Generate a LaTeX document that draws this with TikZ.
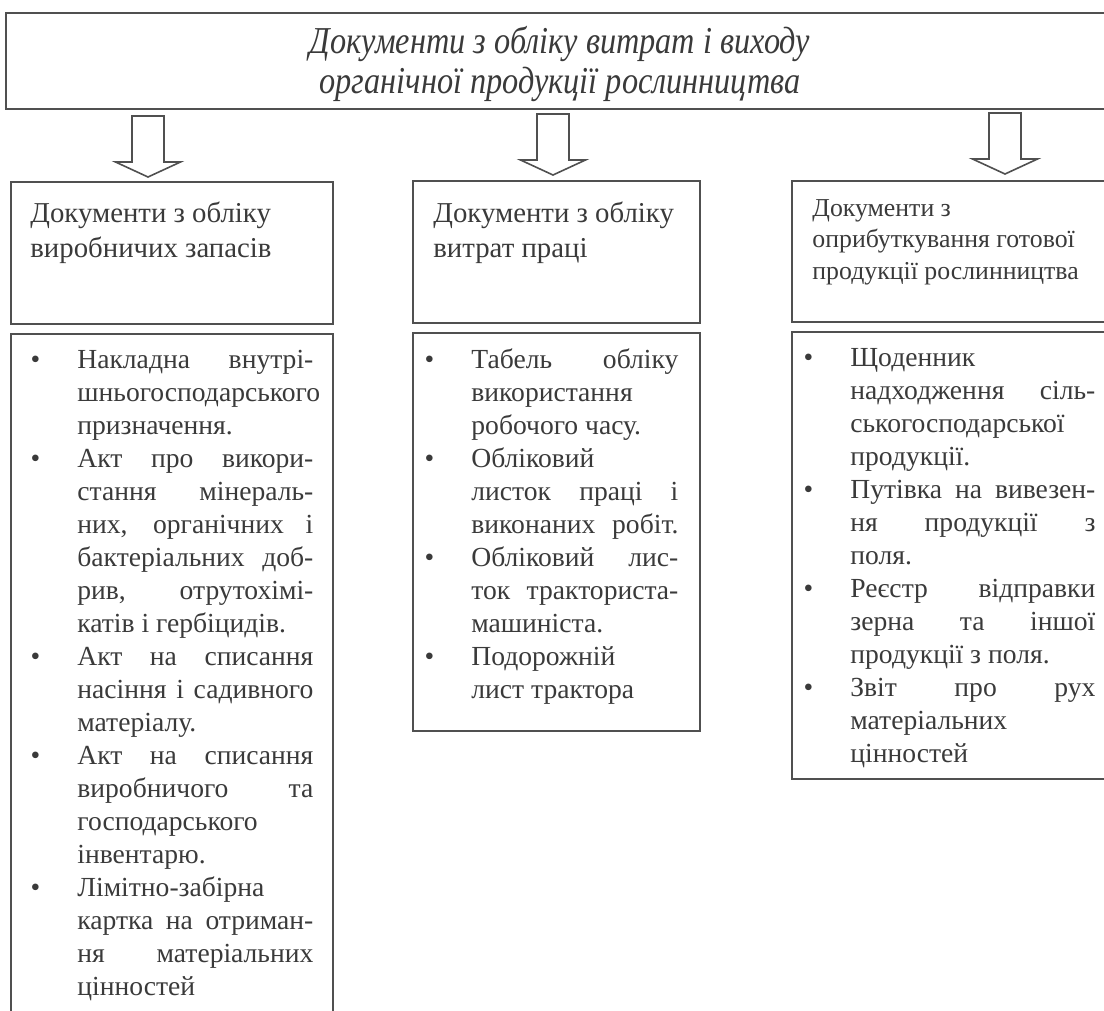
\documentclass[tikz,border=0pt]{standalone}
\usepackage{fontspec}
\setmainfont{Liberation Serif}
\newfontfamily\capfont[FakeStretch=0.85]{Liberation Serif}
\usetikzlibrary{calc}
\definecolor{ink}{HTML}{3A3A3A}
\definecolor{frame}{HTML}{505050}
\newlength\colw
\newcommand{\jline}[1]{\makebox[\colw][s]{#1}}
\newcommand{\bul}{\llap{\textbullet\hspace{18.5pt}}}
\tikzset{
  colw/.code={\setlength\colw{#1}},
  box/.style={draw=frame, line width=0.8pt, inner sep=0pt, anchor=north west},
  hollow/.style={draw=frame, line width=0.8pt, line join=miter, fill=white},
  captxt/.style={text=ink, inner sep=0pt, align=center, font=\capfont\itshape\fontsize{19}{20}\selectfont},
  headtxt/.style={text=ink, inner sep=0pt, anchor=base west, align=left, font=\fontsize{14.4}{17.5}\selectfont},
  headsm/.style={headtxt, font=\fontsize{12.9}{15.6}\selectfont},
  lines/.style={text=ink, inner sep=0pt, anchor=base west, align=left, font=\fontsize{13.8}{16.5}\selectfont},
}
\begin{document}
\begin{tikzpicture}[x=0.5pt,y=-0.5pt]
  \useasboundingbox (0,0) rectangle (1104,1011);
  \clip (0,0) rectangle (1104,1011);
  % main box
  \node[box, minimum width=557.5pt, minimum height=48pt] (top) at (5,12) {};
  \node[captxt] (toptxt) at (560,64) {Документи з обліку витрат і виходу\\органічної продукції рослинництва};
  % sub headings (anchored at the last line)
  \node[box, minimum width=161pt, minimum height=71pt] (h1) at (10,181) {};
  \node[box, minimum width=143.5pt, minimum height=71pt] (h2) at (412,180) {};
  \node[box, minimum width=165pt, minimum height=70.5pt] (h3) at (791,180) {};
  \node[headtxt] (h1txt) at ([shift={(20,76)}]h1.north west) {Документи з обліку\\виробничих запасів};
  \node[headtxt] (h2txt) at ([shift={(21,77)}]h2.north west) {Документи з обліку\\витрат праці};
  \node[headsm] (h3txt) at ([shift={(21,99)}]h3.north west) {Документи з\\оприбуткування готової\\продукції рослинництва};
  % lists
  \node[box, minimum width=161pt, minimum height=350pt] (b1) at (10,333) {};
  \node[box, minimum width=143.5pt, minimum height=199pt] (b2) at (412,332) {};
  \node[box, minimum width=165pt, minimum height=223.5pt] (b3) at (791,331) {};
  \node[lines, colw=118pt] (b1txt) at ([shift={(67,662)}]b1.north west) {%
    \bul\jline{Накладна внутрі-}\\
    шньогосподарського\\
    призначення.\\
    \bul\jline{Акт про викори-}\\
    \jline{стання мінераль-}\\
    \jline{них, органічних і}\\
    \jline{бактеріальних доб-}\\
    \jline{рив, отрутохімі-}\\
    катів і гербіцидів.\\
    \bul\jline{Акт на списання}\\
    \jline{насіння і садивного}\\
    матеріалу.\\
    \bul\jline{Акт на списання}\\
    \jline{виробничого та}\\
    господарського\\
    інвентарю.\\
    \bul Лімітно-забірна\\
    \jline{картка на отриман-}\\
    \jline{ня матеріальних}\\
    цінностей};
  \node[lines, colw=103.5pt] (b2txt) at ([shift={(59,366)}]b2.north west) {%
    \bul\jline{Табель обліку}\\
    використання\\
    робочого часу.\\
    \bul Обліковий\\
    \jline{листок праці і}\\
    \jline{виконаних робіт.}\\
    \bul\jline{Обліковий лис-}\\
    \jline{ток тракториста-}\\
    машиніста.\\
    \bul Подорожній\\
    лист трактора};
  \node[lines, colw=122.5pt] (b3txt) at ([shift={(59,431)}]b3.north west) {%
    \bul Щоденник\\
    \jline{надходження сіль-}\\
    ськогосподарської\\
    продукції.\\
    \bul\jline{Путівка на вивезен-}\\
    \jline{ня продукції з}\\
    поля.\\
    \bul\jline{Реєстр відправки}\\
    \jline{зерна та іншої}\\
    продукції з поля.\\
    \bul\jline{Звіт про рух}\\
    матеріальних\\
    цінностей};
  % hollow arrows
  \coordinate (s1) at (148,116);
  \coordinate (t1) at (148,177);
  \coordinate (s2) at (553,114);
  \coordinate (t2) at (553,175);
  \coordinate (s3) at (1005,113);
  \coordinate (t3) at (1005,174);
  \foreach \i in {1,2,3}
    \draw[hollow] ($(s\i)+(-16,0)$) -- ($(t\i)+(-16,-15)$) -- ($(t\i)+(-32.5,-15)$) -- (t\i)
      -- ($(t\i)+(32.5,-15)$) -- ($(t\i)+(16,-15)$) -- ($(s\i)+(16,0)$) -- cycle;
\end{tikzpicture}
\end{document}
